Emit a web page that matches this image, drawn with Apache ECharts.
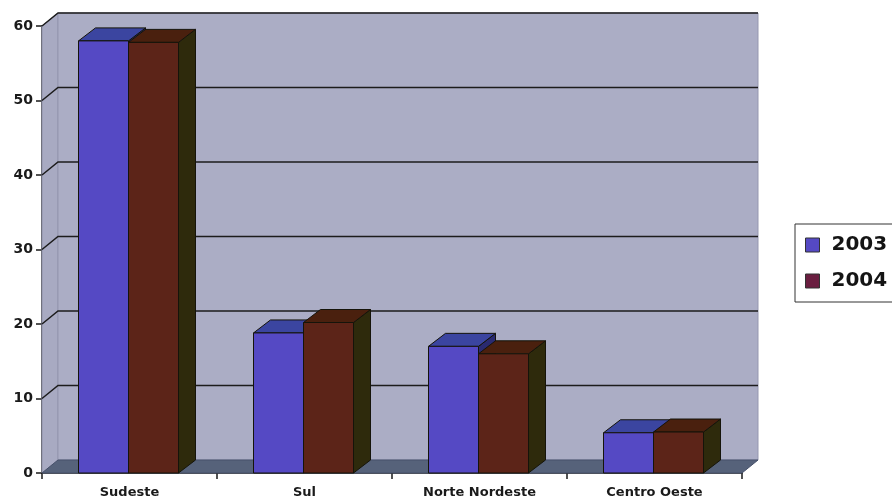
<!DOCTYPE html>
<html>
<head>
<meta charset="utf-8">
<script src="https://cdn.jsdelivr.net/npm/echarts@6/dist/echarts.min.js"></script>
<style>
  html, body { margin: 0; padding: 0; background: #fff; }
  #chart { width: 892px; height: 504px; }
</style>
</head>
<body>
<div id="chart"></div>
<script>
// 数据
var regioes = ['Sudeste', 'Sul', 'Norte Nordeste', 'Centro Oeste'];
var anos = ['2003', '2004'];
var v2003 = [58, 18.8, 17.0, 5.4];
var v2004 = [57.8, 20.2, 16.0, 5.5];
var yTicks = [10, 20, 30, 40, 50, 60];

// 3D 偏移
var WALL_DX = 16, WALL_DY = -13;
var BAR_DX = 17, BAR_DY = -13;

// 颜色 (前面, 顶面, 侧面)
var cores = {
    '2003': ['#5549c4', '#3b45a0', '#2a2a70'],
    '2004': ['#5c2418', '#4a200e', '#2e2a0c']
};

var fonte = 'DejaVu Sans, Liberation Sans, Arial';

function wallItem(params, api) {
    var cs = params.coordSys;
    var x0 = cs.x, x1 = cs.x + cs.width;
    var yb = cs.y + cs.height, yt = cs.y;
    return {
        type: 'group',
        children: [
            // 左侧墙
            { type: 'polygon', shape: { points: [[x0, yb], [x0, yt], [x0 + WALL_DX, yt + WALL_DY], [x0 + WALL_DX, yb + WALL_DY]] },
              style: { fill: '#a8aac2', stroke: '#8e90a8', lineWidth: 1 } },
            // 背景墙
            { type: 'rect', shape: { x: x0 + WALL_DX, y: yt + WALL_DY, width: cs.width, height: cs.height },
              style: { fill: '#abadc5', stroke: '#9597b0', lineWidth: 1 } },
            // 底面
            { type: 'polygon', shape: { points: [[x0, yb], [x1, yb], [x1 + WALL_DX, yb + WALL_DY], [x0 + WALL_DX, yb + WALL_DY]] },
              style: { fill: '#56627a', stroke: '#46506a', lineWidth: 1 } }
        ]
    };
}

function gridItem(params, api) {
    var cs = params.coordSys;
    var p = api.coord([0, api.value(0)]);
    var y = p[1];
    var x0 = cs.x, x1 = cs.x + cs.width;
    return {
        type: 'polyline',
        shape: { points: [[x0, y], [x0 + WALL_DX, y + WALL_DY], [x1 + WALL_DX, y + WALL_DY]] },
        style: { stroke: '#1c1c1c', lineWidth: 1.5, fill: null }
    };
}

function makeBarItem(ano, lado) {
    var c = cores[ano];
    return function (params, api) {
        var cat = api.value(0);
        var topo = api.coord([cat, api.value(1)]);
        var base = api.coord([cat, 0]);
        var band = api.size([1, 0])[0];
        var w = band * 50 / 175;
        var x = topo[0] + (lado === 0 ? -w - 1 : -1);
        var ty = topo[1], by = base[1];
        return {
            type: 'group',
            children: [
                { type: 'polygon', shape: { points: [[x + w, ty], [x + w + BAR_DX, ty + BAR_DY], [x + w + BAR_DX, by + BAR_DY], [x + w, by]] },
                  style: { fill: c[2], stroke: '#15140a', lineWidth: 1 } },
                { type: 'polygon', shape: { points: [[x, ty], [x + BAR_DX, ty + BAR_DY], [x + w + BAR_DX, ty + BAR_DY], [x + w, ty]] },
                  style: { fill: c[1], stroke: '#15140a', lineWidth: 1 } },
                { type: 'rect', shape: { x: x, y: ty, width: w, height: by - ty },
                  style: { fill: c[0], stroke: '#15140a', lineWidth: 1 } }
            ]
        };
    };
}

var myChart = echarts.init(document.getElementById('chart'));
var option = {
    animation: false,
    backgroundColor: '#ffffff',
    grid: { left: 42, top: 26, width: 700, height: 447 },
    legend: {
        data: [
            { name: '2003', itemStyle: { color: cores['2003'][0], borderColor: '#333', borderWidth: 1 } },
            { name: '2004', itemStyle: { color: '#6a1e40', borderColor: '#333', borderWidth: 1 } }
        ],
        orient: 'vertical',
        left: 795,
        top: 224,
        padding: [11, 30, 11, 10],
        itemGap: 16,
        itemWidth: 14,
        itemHeight: 14,
        icon: 'rect',
        borderColor: '#333',
        borderWidth: 1,
        textStyle: { fontFamily: fonte, fontWeight: 'bold', fontSize: 20, color: '#141414', padding: [0, 0, 0, 7] }
    },
    xAxis: {
        type: 'category',
        data: regioes,
        axisLine: { lineStyle: { color: '#1a1a1a', width: 1.5 } },
        axisTick: { show: true, length: 6, lineStyle: { color: '#1a1a1a', width: 1.5 } },
        axisLabel: { fontFamily: fonte, fontWeight: 'bold', fontSize: 13, color: '#1a1a1a', margin: 13 }
    },
    yAxis: {
        type: 'value',
        min: 0,
        max: 60,
        interval: 10,
        splitLine: { show: false },
        axisLine: { show: true, lineStyle: { color: '#1a1a1a', width: 1.5 } },
        axisTick: { show: true, length: 6, lineStyle: { color: '#1a1a1a', width: 1.5 } },
        axisLabel: { fontFamily: fonte, fontWeight: 'bold', fontSize: 14, color: '#1a1a1a', margin: 9 }
    },
    series: [
        { name: 'paredes', type: 'custom', renderItem: wallItem, data: [[0]], silent: true, z: 1 },
        { name: 'grade', type: 'custom', renderItem: gridItem, data: yTicks.map(function (v) { return [v]; }), silent: true, z: 2 },
        { name: '2003', type: 'custom', renderItem: makeBarItem('2003', 0),
          data: v2003.map(function (v, i) { return [i, v]; }), itemStyle: { color: cores['2003'][0] }, z: 3 },
        { name: '2004', type: 'custom', renderItem: makeBarItem('2004', 1),
          data: v2004.map(function (v, i) { return [i, v]; }), itemStyle: { color: '#6a1e40' }, z: 4 }
    ]
};
myChart.setOption(option);
</script>
</body>
</html>
